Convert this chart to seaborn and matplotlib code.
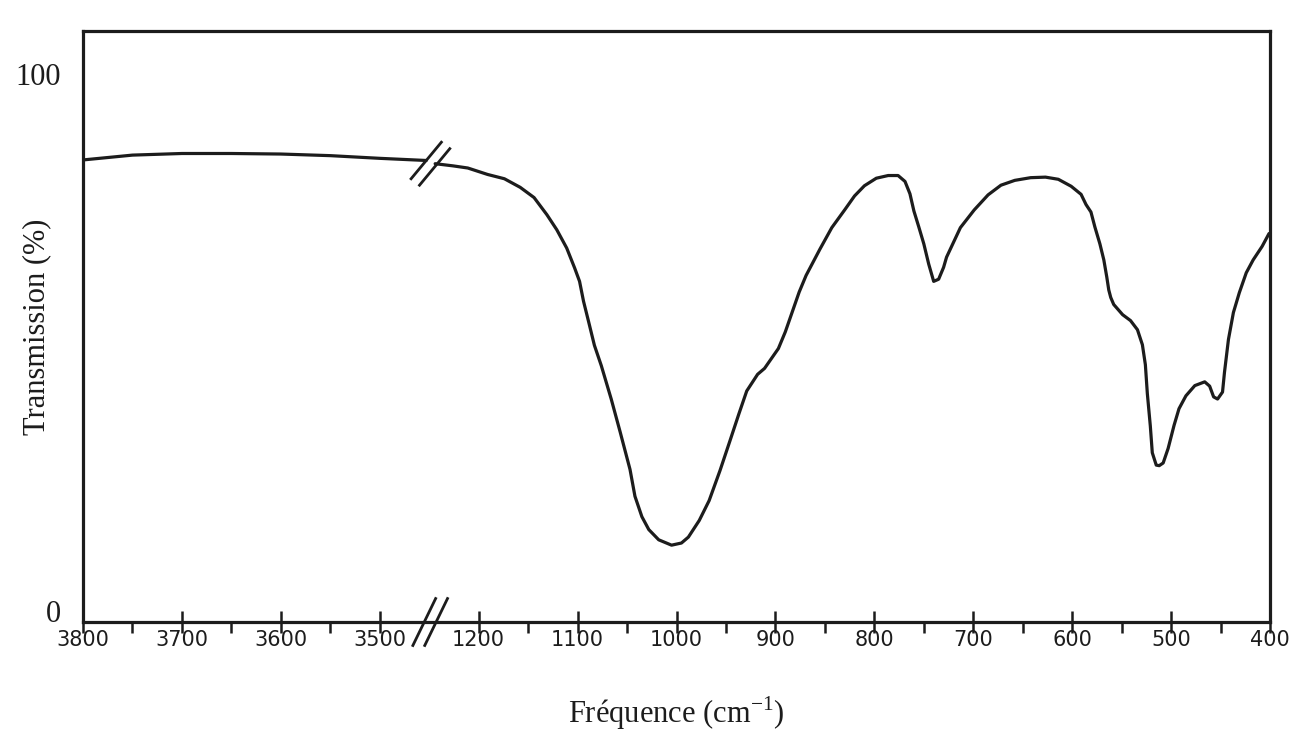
import numpy as np
import pandas as pd
import matplotlib
matplotlib.use("Agg")
import matplotlib.pyplot as plt
import matplotlib.transforms as mtransforms
import seaborn as sns

# Infrared spectrum: high-frequency part (3800-3500 cm-1, plotted a little past the break)
wn_hi = [3800, 3750, 3700, 3650, 3600, 3550, 3500, 3453]
t_hi = [86.0, 86.9, 87.2, 87.2, 87.1, 86.8, 86.3, 85.9]

# Low-frequency part (1200-400 cm-1, starting a little before the break)
wn_lo = [1244, 1226, 1211, 1191, 1174, 1158, 1144, 1131, 1121, 1111, 1103, 1098,
         1094, 1089, 1083, 1076, 1066, 1057, 1047, 1042, 1035, 1028, 1018, 1005,
         995, 988, 977, 967, 956, 946, 937, 929, 918, 911, 897, 890, 883, 876,
         869, 855, 843, 830, 820, 810, 798, 786, 776, 769, 764, 760, 755, 750,
         745, 740, 735, 730, 727, 713, 699, 685, 672, 658, 642, 627, 614, 601,
         591, 586, 581, 577, 572, 568, 565, 563, 561, 558, 549, 541, 534, 529,
         526, 524, 521, 519, 515, 512, 508, 503, 497, 492, 485, 476, 466, 461,
         457, 453, 448, 446, 442, 437, 431, 424, 417, 408, 401]
t_lo = [85.3, 84.9, 84.5, 83.3, 82.5, 80.9, 79.0, 75.8, 73.0, 69.6, 65.9, 63.4,
        59.7, 56.0, 51.5, 47.7, 41.5, 35.4, 28.4, 23.4, 19.6, 17.2, 15.3, 14.3,
        14.7, 15.8, 18.9, 22.6, 28.2, 33.7, 38.7, 43.0, 46.1, 47.2, 50.9, 54.0, 57.7, 61.4,
        64.5, 69.4, 73.4, 76.7, 79.3, 81.2, 82.6, 83.1, 83.1, 82.0, 79.7, 76.5, 73.5, 70.4,
        66.6, 63.4, 63.8, 66.0, 67.9, 73.4, 76.7, 79.5, 81.3, 82.2, 82.7, 82.8, 82.4, 81.1,
        79.6, 77.7, 76.3, 73.5, 70.4, 67.4, 64.2, 61.8, 60.4, 59.1, 57.2, 56.1, 54.4, 51.6,
        47.9, 42.5, 36.5, 31.5, 29.2, 29.1, 29.6, 32.3, 36.6, 39.7, 42.1, 44.0, 44.7, 43.9,
        41.9, 41.5, 42.8, 46.5, 52.6, 57.6, 61.3, 65.0, 67.4, 69.9, 72.3]

major_ticks = [3800, 3700, 3600, 3500, 1200, 1100, 1000, 900, 800, 700, 600, 500, 400]
minor_ticks = [3750, 3650, 3550, 1150, 1050, 950, 850, 750, 650, 550, 450]
y_ticks = [0, 100]

spec = pd.concat([
    pd.DataFrame({"wn": wn_hi, "T": t_hi, "part": "hi"}),
    pd.DataFrame({"wn": wn_lo, "T": t_lo, "part": "lo"}),
], ignore_index=True)

sns.set_theme(style="white")
plt.rcParams["font.family"] = ["DejaVu Sans"]
plt.rcParams["mathtext.fontset"] = "custom"
plt.rcParams["mathtext.rm"] = "Liberation Serif"

INK = "#1c1c1c"
SERIF = ["Liberation Serif", "DejaVu Serif"]


# Broken wavenumber axis: 100 cm-1 per unit, with one unit skipped between 3500 and 1200
def fwd(w):
    w = np.asarray(w, dtype=float)
    return np.where(w >= 2000, (3800.0 - w) / 100.0, 4.0 + (1200.0 - w) / 100.0)


def inv(p):
    p = np.asarray(p, dtype=float)
    return np.where(p < 3.515, 3800.0 - 100.0 * p, 1200.0 - 100.0 * (p - 4.0))


fig = plt.figure(figsize=(13.14, 7.46), dpi=100)
ax = fig.add_axes([83 / 1314, 124 / 746, 1187 / 1314, 591 / 746])
ax.set_xscale("function", functions=(fwd, inv))

for part, grp in spec.groupby("part"):
    sns.lineplot(data=grp, x="wn", y="T", ax=ax, color=INK, linewidth=2.3,
                 estimator=None, legend=False, solid_joinstyle="round",
                 solid_capstyle="round")

ax.set_xlim(400, 3800)
# high wavenumbers on the left
x_left = ax.transData.transform((3800, 0))[0]
x_right = ax.transData.transform((400, 0))[0]
if x_left > x_right:
    ax.invert_xaxis()
ax.set_ylim(0, 110)

for side in ax.spines.values():
    side.set_visible(True)
    side.set_color(INK)
    side.set_linewidth(2.3)

ax.set_xticks(major_ticks)
ax.set_xticklabels([str(t) for t in major_ticks])
ax.set_xticks(minor_ticks, minor=True)
ax.tick_params(axis="x", which="major", direction="inout", length=16, width=1.8,
               color=INK, labelsize=15, labelcolor=INK, pad=-2, bottom=True)
ax.tick_params(axis="x", which="minor", direction="out", length=8, width=1.8,
               color=INK, bottom=True)

ax.set_yticks(y_ticks)
ax.set_yticklabels([str(t) for t in y_ticks], fontfamily=SERIF, fontsize=22, color=INK)
ax.tick_params(axis="y", length=0, pad=16, left=True)
for lab in ax.get_yticklabels():
    lab.set_verticalalignment("baseline")

ax.set_xlabel("Fréquence (cm$^{\\mathregular{-1}}$)", fontfamily=SERIF, fontsize=22,
              color=INK, labelpad=32)
ax.set_ylabel("Transmission (%)", fontfamily=SERIF, fontsize=22, color=INK)
ax.yaxis.set_label_coords(-0.027, 0.5)

# Break marks: on the frequency axis and on the trace
blend = mtransforms.blended_transform_factory(ax.transAxes, ax.transData)
for xc in (3.45 / 12, 3.57 / 12):
    ax.plot([xc - 0.0101, xc + 0.0101], [-4.6, 4.6], transform=blend, color=INK,
            linewidth=2.0, clip_on=False, solid_capstyle="butt")
for xc, yc in ((3.47 / 12, 85.9), (3.555 / 12, 84.7)):
    ax.plot([xc - 0.0135, xc + 0.0135], [yc - 3.6, yc + 3.6], transform=blend,
            color=INK, linewidth=2.0, clip_on=False, solid_capstyle="butt")

fig.savefig("out.png", dpi=100, facecolor="white")
